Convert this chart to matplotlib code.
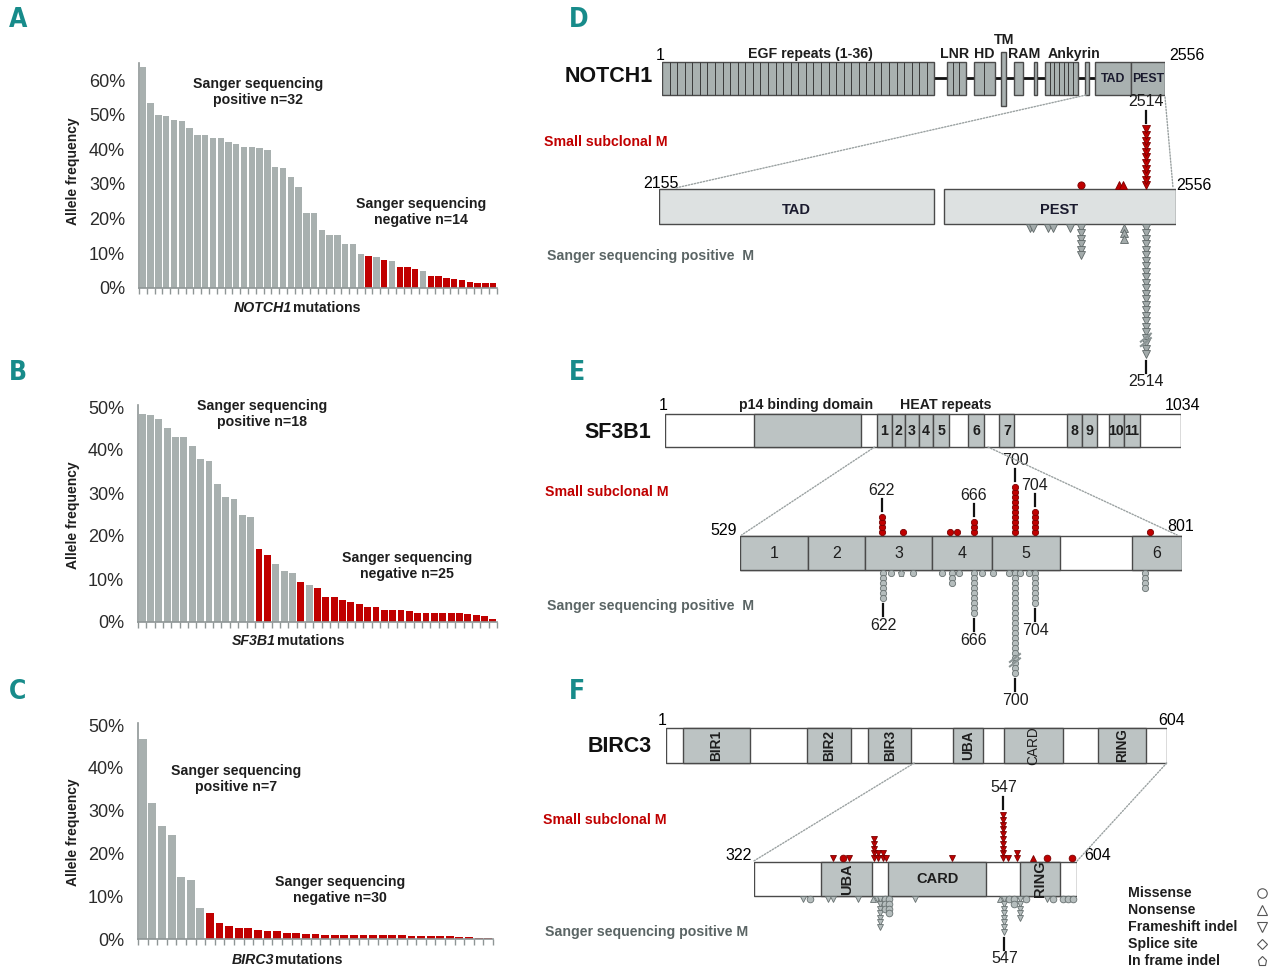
import numpy as np
import matplotlib
matplotlib.use('Agg')
import matplotlib.pyplot as plt
from matplotlib.patches import Rectangle, ConnectionPatch

plt.rcParams['font.family'] = ['Liberation Sans', 'DejaVu Sans']

# ---------------- DATA: allele frequency (%) of each mutation ----------------
notch1_af = [63.8, 53.5, 49.9, 49.6, 48.5, 48.1, 46.2, 44.2, 44.0, 43.4, 43.3, 42.1,
             41.5, 40.8, 40.7, 40.3, 39.7, 34.9, 34.6, 31.9, 29.0, 21.5, 21.5, 16.8,
             15.3, 15.2, 12.8, 12.8, 9.8, 9.3, 8.8, 8.1, 7.8, 6.1, 6.1, 5.4, 4.9, 3.5,
             3.4, 2.8, 2.7, 2.4, 1.8, 1.5, 1.5, 1.5]
# P = Sanger sequencing positive, N = Sanger negative (small subclonal)
notch1_status = 'PPPPPPPPPPPPPPPPPPPPPPPPPPPPP' + 'NPNPNNNP' + 'NNNNNNNNN'

sf3b1_af = [48.4, 48.1, 47.1, 45.0, 43.0, 43.0, 41.0, 37.9, 37.5, 32.2, 29.1, 28.7,
            24.9, 24.4, 17.0, 15.6, 13.5, 11.8, 11.5, 9.3, 8.7, 7.9, 5.7, 5.7, 5.0,
            4.7, 4.2, 3.6, 3.4, 2.9, 2.7, 2.7, 2.5, 2.2, 2.2, 2.2, 2.1, 2.0, 2.0, 1.9,
            1.7, 1.5, 0.7]
sf3b1_status = 'PPPPPPPPPPPPPP' + 'NNPPPNPN' + 'NNNNNNNNNNNNNNNNNNNNN'

birc3_af = [46.7, 31.7, 26.3, 24.4, 14.6, 13.8, 7.2, 6.0, 3.7, 3.0, 2.5, 2.5, 2.2,
            1.8, 1.8, 1.5, 1.5, 1.2, 1.2, 1.0, 1.0, 1.0, 1.0, 1.0, 1.0, 1.0, 1.0, 1.0,
            0.8, 0.8, 0.8, 0.8, 0.8, 0.5, 0.4, 0.2, 0.2]
birc3_status = 'PPPPPPP' + 'NNNNNNNNNNNNNNNNNNNNNNNNNNNNNN'

yticks_a = [0, 10, 20, 30, 40, 50, 60]
yticks_bc = [0, 10, 20, 30, 40, 50]

# ---------------- DATA: protein domains (amino-acid coordinates) ----------------
notch1_len = 2556
notch1_domains = [  # name, start, end, number of repeat segments
    ('EGF', 1, 1385, 36), ('LNR', 1449, 1543, 3), ('HD', 1587, 1690, 2),
    ('RAM', 1789, 1837, 1), ('x1', 1891, 1908, 1), ('Ankyrin', 1946, 2113, 7),
    ('x2', 2150, 2170, 1), ('TAD', 2202, 2383, 1), ('PEST', 2383, 2555, 1)]
notch1_tm = (1721, 1748)
notch1_zoom = (2155, 2556)
notch1_zoom_domains = [('TAD', 2155, 2369), ('PEST', 2376, 2556)]

sf3b1_len = 1034
sf3b1_p14 = (179, 394)
sf3b1_heat = [(425, 455), (455, 482), (482, 510), (510, 538), (538, 570), (608, 640),
              (671, 701), (806, 836), (836, 866), (890, 920), (920, 952)]
sf3b1_zoom = (529, 801)
sf3b1_zoom_src = (421, 648)
sf3b1_zoom_blocks = [('1', 529, 571), ('2', 571, 606), ('3', 606, 647), ('4', 647, 684),
                     ('5', 684, 726), ('6', 770, 801)]

birc3_len = 604
birc3_domains = [('BIR1', 21.5, 101.8), ('BIR2', 170.8, 223.8), ('BIR3', 244.3, 296.4),
                 ('UBA', 346.2, 382.8), ('CARD', 408.4, 479.1), ('RING', 521.3, 579.5)]
birc3_zoom = (322, 604)
birc3_zoom_src = (300, 604)
birc3_zoom_domains = [('UBA', 381, 425, 90), ('CARD', 439.4, 524.6, 0), ('RING', 554.6, 589.2, 90)]

# ---------------- DATA: mutations (position, count, type) ----------------
# types: mis = missense, non = nonsense, fs = frameshift indel, spl = splice, ifi = in-frame indel
notch1_sub = [(2483, 1, 'mis'), (2512, 1, 'non'), (2515.5, 1, 'non'), (2533, 11, 'fs')]
notch1_san = [(2443, 1, 'fs'), (2445.5, 1, 'fs'), (2457, 1, 'fs'), (2461, 1, 'fs'),
              (2474, 1, 'fs'), (2483, 6, 'fs'), (2516, 3, 'non'), (2533, 24, 'fs')]
notch1_hot_up = [(2533, '2514')]
notch1_hot_down = [(2533, '2514')]

sf3b1_sub = [(616.2, 4, 'mis'), (629.1, 1, 'mis'), (658.2, 1, 'mis'), (662.5, 1, 'mis'),
             (673.0, 3, 'mis'), (698.2, 10, 'mis'), (710.5, 5, 'mis'), (781.5, 1, 'mis')]
sf3b1_san = [(617.2, 6, 'mis'), (621.7, 1, 'mis'), (627.9, 1, 'ifi'), (635.3, 1, 'mis'),
             (653.1, 1, 'mis'), (659.3, 3, 'mis'), (664.0, 1, 'mis'), (673.0, 9, 'mis'),
             (677.7, 1, 'mis'), (684.5, 1, 'mis'), (694.7, 1, 'mis'), (698.2, 21, 'mis'),
             (701.3, 1, 'mis'), (706.8, 1, 'mis'), (710.7, 7, 'mis'), (778.1, 4, 'mis')]
sf3b1_hot_up = [(616.2, '622'), (673.0, '666'), (698.2, '700'), (710.5, '704')]
sf3b1_hot_down = [(617.2, '622'), (673.0, '666'), (698.2, '700'), (710.7, '704')]

birc3_sub = [(391.4, 1, 'fs'), (400.1, 1, 'mis'), (405.3, 1, 'fs'), (426.9, 5, 'fs'),
             (430.4, 2, 'fs'), (434.5, 2, 'fs'), (437.4, 1, 'fs'), (495.2, 1, 'fs'),
             (539.7, 10, 'fs'), (543.8, 1, 'fs'), (551.4, 2, 'fs'), (565.9, 1, 'non'),
             (577.6, 1, 'mis'), (599.4, 1, 'mis')]
birc3_san = [(365.2, 1, 'fs'), (371.0, 1, 'mis'), (387.0, 1, 'fs'), (391.4, 1, 'fs'),
             (413.2, 1, 'fs'), (426.3, 1, 'non'), (429.5, 1, 'fs'), (432.1, 7, 'fs'),
             (436.6, 3, 'mis'), (440.1, 4, 'mis'), (462.7, 1, 'fs'), (536.8, 1, 'non'),
             (540.6, 8, 'fs'), (544.3, 1, 'mis'), (549.1, 2, 'mis'), (554.3, 5, 'fs'),
             (559.5, 1, 'mis'), (577.6, 1, 'fs'), (583.3, 1, 'mis'), (592.1, 1, 'mis'),
             (596.2, 1, 'mis'), (600.8, 1, 'mis')]
birc3_hot_up = [(539.7, '547')]
birc3_hot_down = [(540.6, '547')]

legend_labels = ['Missense', 'Nonsense', 'Frameshift indel', 'Splice site', 'In frame indel']
legend_types = ['mis', 'non', 'fs', 'spl', 'ifi']

# ---------------- style ----------------
W, H = 1280, 980
GRAY = '#a8b0af'
RED = '#c00000'
TEAL = '#178b8a'
DOM = '#bcc3c3'
EDGE = '#4a4a4a'
SPINE = '#8f9696'
MK = {'mis': 'o', 'non': '^', 'fs': 'v', 'spl': 'D', 'ifi': 'p'}
FS_TXT = 10.2
FS_NUM = 11.5

fig = plt.figure(figsize=(12.8, 9.8), dpi=100)


def px_axes(x0, x1, y0, y1):
    return fig.add_axes([x0 / W, 1 - y1 / H, (x1 - x0) / W, (y1 - y0) / H])


ov = px_axes(0, W, 0, H)
ov.set_xlim(0, W)
ov.set_ylim(H, 0)
ov.axis('off')


def T(x, y, s, **kw):
    kw.setdefault('ha', 'center')
    kw.setdefault('va', 'center')
    ov.text(x, y, s, **kw)


# ---------------- left: bar panels ----------------
def bar_panel(x0, x1, y0, y1, vals, status, ymax, yticks):
    ax = px_axes(x0, x1, y0, y1)
    n = len(vals)
    cols = [GRAY if s == 'P' else RED for s in status]
    ax.bar(np.arange(n), vals, width=0.82, color=cols, edgecolor='none')
    ax.set_xlim(-0.5, n - 0.5)
    ax.set_ylim(0, ymax)
    for s in ['top', 'right']:
        ax.spines[s].set_visible(False)
    for s in ['left', 'bottom']:
        ax.spines[s].set_color(SPINE)
        ax.spines[s].set_linewidth(1.2)
    ax.set_xticks(np.arange(n + 1) - 0.5)
    ax.set_xticklabels([])
    ax.tick_params(axis='x', length=4, width=1, color=SPINE)
    ax.set_yticks(yticks)
    ax.set_yticklabels([f'{t}%' for t in yticks], fontsize=13, color='#2b2b2b')
    ax.tick_params(axis='y', length=0, pad=10)
    ax.patch.set_alpha(0)
    return ax


bar_panel(139, 497, 288 - 65 * 208 / 60, 288, notch1_af, notch1_status, 65, yticks_a)
bar_panel(138, 497, 622 - 50.5 * 4.3, 622, sf3b1_af, sf3b1_status, 50.5, yticks_bc)
bar_panel(138, 493, 939 - 50.5 * 4.28, 939, birc3_af, birc3_status, 50.5, yticks_bc)

bold = dict(fontsize=FS_TXT, fontweight='bold', color='#1e1e1e', linespacing=1.25)
T(258, 92, 'Sanger sequencing\npositive n=32', **bold)
T(421, 212, 'Sanger sequencing\nnegative n=14', **bold)
T(262, 414, 'Sanger sequencing\npositive n=18', **bold)
T(407, 566, 'Sanger sequencing\nnegative n=25', **bold)
T(236, 779, 'Sanger sequencing\npositive n=7', **bold)
T(340, 890, 'Sanger sequencing\nnegative n=30', **bold)

for yc in (171, 515, 832):
    T(73, yc, 'Allele frequency', rotation=90, fontsize=10, fontweight='bold', color='#1e1e1e')

for y, gene, split in [(308, 'NOTCH1', 292), (641, 'SF3B1', 276), (960, 'BIRC3', 274)]:
    T(split, y, gene, ha='right', fontsize=FS_TXT, fontweight='bold', fontstyle='italic',
      color='#1e1e1e')
    T(split + 1, y, 'mutations', ha='left', fontsize=FS_TXT, fontweight='bold', color='#1e1e1e')

letter = dict(fontsize=19, fontweight='bold', color=TEAL, ha='left', fontstretch='condensed',
              family=['DejaVu Sans'])
for x, y, s in [(9, 20, 'A'), (9, 373, 'B'), (9, 692, 'C'), (569, 20, 'D'), (569, 373, 'E'),
                (569, 692, 'F')]:
    T(x, y, s, **letter)


# ---------------- right: protein tracks ----------------
def track(x0, x1, aa0, aa1):
    ax = px_axes(x0, x1, 0, H)
    ax.set_xlim(aa0, aa1)
    ax.set_ylim(H, 0)
    ax.axis('off')
    ax.ppa = (x1 - x0) / (aa1 - aa0)
    return ax


def box(ax, a, b, y0, y1, fc, lw=1.0, zorder=2):
    ax.add_patch(Rectangle((a, y0), b - a, y1 - y0, facecolor=fc, edgecolor=EDGE,
                           lw=lw, zorder=zorder))


def stacks(ax, muts, base, direction, step, face, edge, ms):
    for pos, n, kind in muts:
        ys = base + direction * (ms * 0.7 + np.arange(n) * step)
        ax.plot([pos] * n, ys, ls='none', marker=MK[kind], ms=ms, mfc=face, mec=edge,
                mew=0.6, clip_on=False, zorder=4)


def hot(ax, hots, muts, base, direction, step, ms, breaks=False):
    counts = {}
    for pos, n, kind in muts:
        counts[pos] = max(counts.get(pos, 0), n)
    for pos, lab in hots:
        n = counts[pos]
        end = base + direction * (ms * 0.7 + (n - 1) * step + ms * 0.7)
        s0 = end + direction * 3
        s1 = s0 + direction * 12
        ax.plot([pos, pos], [s0, s1], color='#111111', lw=1.6, clip_on=False, zorder=5)
        ax.text(pos, s1 + direction * 9, lab, ha='center', va='center', fontsize=FS_NUM,
                color='#1e1e1e')
        if breaks and n > 15:
            yb = base + direction * (ms * 0.7 + (n - 3.6) * step)
            dx = 5 / ax.ppa
            for off in (-2.2, 2.2):
                ax.plot([pos - dx, pos + dx], [yb + off + 4, yb + off - 4], color='#8a9393',
                        lw=1.5, clip_on=False, zorder=6)


def connector(axA, xyA, axB, xyB):
    con = ConnectionPatch(xyA=xyA, coordsA=axA.transData, xyB=xyB, coordsB=axB.transData,
                          color='#9aa1a1', lw=1.0, ls=(0, (1, 1.2)), zorder=1)
    fig.add_artist(con)


RED_EDGE = '#7a0000'
SAN_FACE, SAN_EDGE = '#b5bdbd', '#687171'

# ---- D: NOTCH1 ----
n1 = track(662, 1165, 1, notch1_len)
n1.plot([notch1_domains[0][2], notch1_domains[7][1]], [78.5, 78.5], color='#111111', lw=2, zorder=1)
for name, a, b, nseg in notch1_domains:
    box(n1, a, b, 62, 95, '#a9b1b0')
    if nseg > 1:
        n1.vlines(np.linspace(a, b, nseg + 1)[1:-1], 62, 95, color='#3a3a3a', lw=0.7, zorder=3)
box(n1, notch1_tm[0], notch1_tm[1], 52, 106, '#a9b1b0')
n1.text((notch1_domains[7][1] + notch1_domains[7][2]) / 2, 79, 'TAD', ha='center', va='center',
        fontsize=8.8, fontweight='bold', color='#1a1a2e', zorder=5)
n1.text((notch1_domains[8][1] + notch1_domains[8][2]) / 2, 79, 'PEST', ha='center', va='center',
        fontsize=8.8, fontweight='bold', color='#1a1a2e', zorder=5)

n1z = track(658.7, 1175.5, notch1_zoom[0], notch1_zoom[1])
for name, a, b in notch1_zoom_domains:
    box(n1z, a, b, 189, 224, '#dde1e1')
    n1z.text((a + b) / 2, 210, name, ha='center', va='center', fontsize=10.5, fontweight='bold',
             color='#1a1a2e')
stacks(n1z, notch1_sub, 189, -1, 5.6, RED, RED_EDGE, 5.2)
stacks(n1z, notch1_san, 224, 1, 5.5, '#a3abab', '#5f6868', 5.2)
hot(n1z, notch1_hot_up, notch1_sub, 189, -1, 5.6, 5.2)
hot(n1z, notch1_hot_down, notch1_san, 224, 1, 5.5, 5.2, breaks=True)
connector(n1, (notch1_zoom[0], 95), n1z, (notch1_zoom[0] + 13, 188))
connector(n1, (notch1_zoom[1], 97), n1z, (notch1_zoom[1] - 2, 187))

T(609, 77, 'NOTCH1', fontsize=15.5, fontweight='bold', color='#111111')
T(660, 56, '1', fontsize=FS_NUM)
dl = dict(fontsize=FS_TXT, fontweight='bold', color='#1e1e1e')
T(810, 54, 'EGF repeats (1-36)', **dl)
T(955, 54, 'LNR', **dl)
T(984, 54, 'HD', **dl)
T(1004, 40, 'TM', **dl)
T(1024, 54, 'RAM', **dl)
T(1074, 54, 'Ankyrin', **dl)
T(1187, 56, '2556', fontsize=FS_NUM)
T(661, 183, '2155', fontsize=FS_NUM)
T(1194, 186, '2556', fontsize=FS_NUM)
T(544, 142, 'Small subclonal M', ha='left', fontsize=FS_TXT, fontweight='bold', color=RED)
T(547, 256, 'Sanger sequencing positive  M', ha='left', fontsize=FS_TXT, fontweight='bold',
  color='#5b6565')

# ---- E: SF3B1 ----
sf = track(665, 1180.6, 1, sf3b1_len)
box(sf, 1, sf3b1_len, 414, 447, 'white')
box(sf, sf3b1_p14[0], sf3b1_p14[1], 414, 447, DOM)
for i, (a, b) in enumerate(sf3b1_heat):
    box(sf, a, b, 414, 447, DOM)
    sf.text((a + b) / 2, 431, str(i + 1), ha='center', va='center', fontsize=10.2,
            fontweight='bold', color='#1e1e1e', zorder=5)

sfz = track(740, 1182, sf3b1_zoom[0], sf3b1_zoom[1])
box(sfz, sf3b1_zoom[0], sf3b1_zoom[1], 535.5, 570, 'white')
for lab, a, b in sf3b1_zoom_blocks:
    box(sfz, a, b, 535.5, 570, DOM)
    sfz.text((a + b) / 2, 553, lab, ha='center', va='center', fontsize=11.5, color='#1e1e1e',
             zorder=5)
stacks(sfz, sf3b1_sub, 535.5, -1, 5.0, RED, RED_EDGE, 4.5)
stacks(sfz, sf3b1_san, 570, 1, 5.0, SAN_FACE, SAN_EDGE, 4.5)
hot(sfz, sf3b1_hot_up, sf3b1_sub, 535.5, -1, 5.0, 4.5)
hot(sfz, sf3b1_hot_down, sf3b1_san, 570, 1, 5.0, 4.5, breaks=True)
connector(sf, (sf3b1_zoom_src[0], 447), sfz, (sf3b1_zoom[0] + 1, 535))
connector(sf, (sf3b1_zoom_src[1], 447), sfz, (sf3b1_zoom[1] - 3, 535))

T(618, 432, 'SF3B1', fontsize=15.5, fontweight='bold', color='#111111')
T(663, 405, '1', fontsize=FS_NUM)
T(806, 405, 'p14 binding domain', **dl)
T(946, 405, 'HEAT repeats', **dl)
T(1183, 405, '1034', fontsize=FS_NUM)
T(724, 530, '529', fontsize=FS_NUM)
T(1181, 526, '801', fontsize=FS_NUM)
T(545, 492, 'Small subclonal M', ha='left', fontsize=FS_TXT, fontweight='bold', color=RED)
T(547, 606, 'Sanger sequencing positive  M', ha='left', fontsize=FS_TXT, fontweight='bold',
  color='#5b6565')

# ---- F: BIRC3 ----
bi = track(666, 1166.7, 1, birc3_len)
box(bi, 1, birc3_len, 728, 763, 'white')
for name, a, b in birc3_domains:
    box(bi, a, b, 728, 763, DOM)
    bi.text((a + b) / 2, 745.5, name, ha='center', va='center', rotation=90, fontsize=9.8,
            fontweight='normal' if name == 'CARD' else 'bold', color='#1e1e1e', zorder=5)

biz = track(753.8, 1077, birc3_zoom[0], birc3_zoom[1])
box(biz, birc3_zoom[0], birc3_zoom[1], 861.5, 896, 'white')
for name, a, b, rot in birc3_zoom_domains:
    box(biz, a, b, 861.5, 896, DOM)
    biz.text((a + b) / 2, 879, name, ha='center', va='center', rotation=rot, fontsize=10.5,
             fontweight='bold', color='#1e1e1e', zorder=5)
stacks(biz, birc3_sub, 861.5, -1, 4.8, RED, RED_EDGE, 4.8)
stacks(biz, birc3_san, 896, 1, 4.6, SAN_FACE, SAN_EDGE, 4.8)
hot(biz, birc3_hot_up, birc3_sub, 861.5, -1, 4.8, 4.8)
hot(biz, birc3_hot_down, birc3_san, 896, 1, 4.6, 4.8)
connector(bi, (birc3_zoom_src[0], 763), biz, (birc3_zoom[0], 861))
connector(bi, (birc3_zoom_src[1], 763), biz, (birc3_zoom[1], 861))

T(620, 746, 'BIRC3', fontsize=15.5, fontweight='bold', color='#111111')
T(662, 720, '1', fontsize=FS_NUM)
T(1172, 720, '604', fontsize=FS_NUM)
T(739, 855, '322', fontsize=FS_NUM)
T(1098, 855, '604', fontsize=FS_NUM)
T(543, 820, 'Small subclonal M', ha='left', fontsize=FS_TXT, fontweight='bold', color=RED)
T(545, 932, 'Sanger sequencing positive M', ha='left', fontsize=FS_TXT, fontweight='bold',
  color='#5b6565')

# legend
for i, (lab, kind) in enumerate(zip(legend_labels, legend_types)):
    y = 893 + i * 16.9
    T(1128, y, lab, ha='left', fontsize=FS_TXT, fontweight='bold', color='#1e1e1e')
    ov.plot([1261.5], [y], ls='none', marker=MK[kind], ms=6.8 if kind != 'spl' else 5.2,
            mfc='white', mec='#555555', mew=0.8)

fig.savefig('out.png', dpi=100)
